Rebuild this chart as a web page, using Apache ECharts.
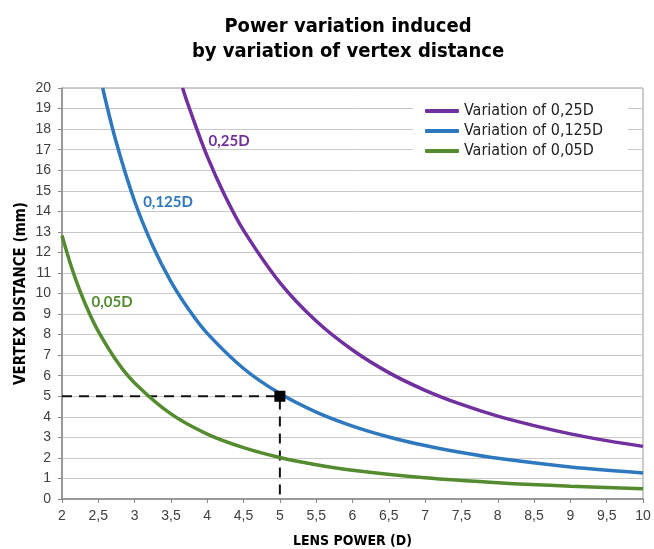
<!DOCTYPE html>
<html>
<head>
<meta charset="utf-8">
<script src="https://cdn.jsdelivr.net/npm/echarts@6/dist/echarts.min.js"></script>
<style>html,body{margin:0;padding:0;background:#fff;}#c{width:654px;height:549px;}</style>
</head>
<body>
<div id="c"></div>
<script>
// Data (lens power D, vertex distance mm)
const seriesNames = ['Variation of 0,25D', 'Variation of 0,125D', 'Variation of 0,05D'];
const curveLabels = ['0,25D', '0,125D', '0,05D'];
const power025 = [3.66, 3.75, 4, 4.25, 4.5, 5, 5.5, 6, 6.5, 7, 7.5, 8, 8.5, 9, 9.5, 10];
const dist025  = [20, 19.05, 16.67, 14.71, 13.07, 10.53, 8.66, 7.25, 6.15, 5.29, 4.60, 4.03, 3.57, 3.17, 2.84, 2.56];
const power0125 = [2.56, 2.75, 3, 3.25, 3.5, 3.75, 4, 4.5, 5, 5.5, 6, 6.5, 7, 7.5, 8, 9, 10];
const dist0125  = [20, 17.32, 14.49, 12.31, 10.58, 9.20, 8.06, 6.35, 5.13, 4.23, 3.55, 3.02, 2.60, 2.26, 1.98, 1.56, 1.27];
const power005 = [2, 2.125, 2.25, 2.375, 2.5, 2.75, 3, 3.5, 4, 4.5, 5, 5.5, 6, 7, 8, 9, 10];
const dist005  = [12.82, 11.34, 10.10, 9.05, 8.16, 6.73, 5.65, 4.14, 3.16, 2.50, 2.02, 1.67, 1.40, 1.03, 0.79, 0.62, 0.50];
// Label anchor points on the curves (power, distance)
const labelPoints = [[4.30, 17.42], [3.46, 14.45], [2.69, 9.59]];
// Example reading: 5 D at 5 mm
const examplePower = [2, 5, 5];
const exampleDist = [5, 5, 0];

const colors = ['#7030A0', '#2E78C0', '#558B2F'];
const pairs = (xs, ys) => xs.map((x, i) => [x, ys[i]]);
const curves = [pairs(power025, dist025), pairs(power0125, dist0125), pairs(power005, dist005)];

const chart = echarts.init(document.getElementById('c'), null, {renderer: 'canvas'});
const narrow = "'DejaVu Sans Condensed', 'Liberation Sans', Arial, sans-serif";

const series = [{
  name: 'example',
  type: 'line',
  data: pairs(examplePower, exampleDist),
  symbol: 'none',
  lineStyle: {color: '#111', width: 2, type: [10, 7]},
  z: 3,
  silent: true,
  markPoint: {
    symbol: 'rect', symbolSize: 11,
    itemStyle: {color: '#000'},
    label: {show: false},
    data: [{coord: [examplePower[1], exampleDist[1]]}],
    z: 10
  }
}];
curves.forEach((d, i) => {
  series.push({
    name: seriesNames[i],
    type: 'line',
    data: d,
    smooth: 0.35,
    symbol: 'none',
    lineStyle: {color: colors[i], width: 3.5},
    itemStyle: {color: colors[i]},
    z: 4,
    markPoint: {
      symbol: 'rect', symbolSize: 1,
      itemStyle: {color: 'rgba(0,0,0,0)'},
      label: {
        show: true, position: 'inside', formatter: curveLabels[i],
        color: colors[i], fontWeight: 'bold', fontSize: 15,
        fontFamily: "Lato, 'Open Sans', sans-serif"
      },
      data: [{coord: labelPoints[i]}]
    }
  });
});

chart.setOption({
  animation: false,
  backgroundColor: '#fff',
  title: {
    text: 'Power variation induced\nby variation of vertex distance',
    left: 343, top: 9, textAlign: 'center',
    textStyle: {fontFamily: narrow, fontWeight: 'bold', fontSize: 20, lineHeight: 25, color: '#000'}
  },
  legend: {
    data: seriesNames,
    orient: 'vertical',
    left: 413, top: 100,
    padding: [3, 25, 6, 12],
    backgroundColor: '#fff',
    itemGap: 4,
    itemWidth: 34, itemHeight: 4,
    icon: 'roundRect',
    textStyle: {fontFamily: narrow, fontSize: 16, color: '#222'}
  },
  grid: {left: 62, right: 11, top: 88, bottom: 50, outerBoundsMode: 'none', containLabel: false, show: true, borderColor: '#999', borderWidth: 1, backgroundColor: 'transparent'},
  xAxis: {
    type: 'value', min: 2, max: 10, interval: 0.5,
    name: 'LENS POWER (D)', nameLocation: 'middle', nameGap: 35, nameMoveOverlap: false,
    nameTextStyle: {fontFamily: narrow, fontWeight: 'bold', fontSize: 14, color: '#000'},
    axisLine: {show: true, lineStyle: {color: '#888', width: 1.5}},
    axisTick: {show: true, length: 4, lineStyle: {color: '#888'}},
    axisLabel: {formatter: v => String(v).replace('.', ','), color: '#404040', fontSize: 14, margin: 10, fontFamily: "'Liberation Sans', Arial, sans-serif"},
    splitLine: {show: false}
  },
  yAxis: {
    type: 'value', min: 0, max: 20, interval: 1,
    name: 'VERTEX DISTANCE (mm)', nameLocation: 'middle', nameGap: 33, nameRotate: 90, nameMoveOverlap: false,
    nameTextStyle: {fontFamily: narrow, fontWeight: 'bold', fontSize: 15, color: '#000'},
    axisLine: {show: true, lineStyle: {color: '#888', width: 1.5}},
    axisTick: {show: true, length: 4, lineStyle: {color: '#888'}},
    axisLabel: {color: '#404040', fontSize: 14, margin: 11, fontFamily: "'Liberation Sans', Arial, sans-serif"},
    splitLine: {show: true, lineStyle: {color: '#c8c8c8', width: 1}}
  },
  series: series
});
</script>
</body>
</html>
